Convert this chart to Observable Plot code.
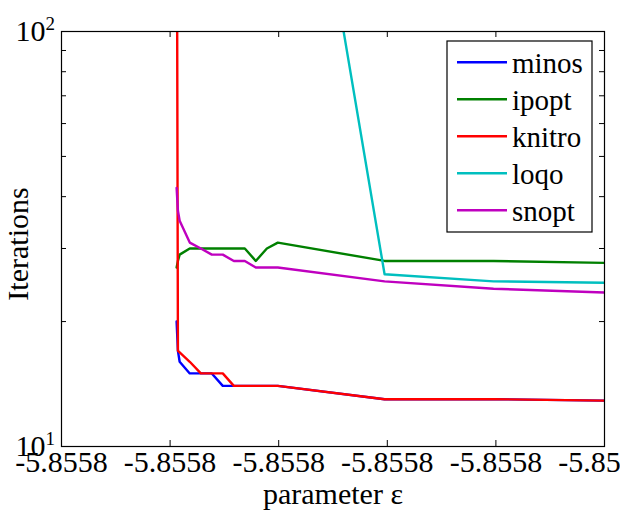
<!DOCTYPE html>
<html>
<head>
<meta charset="utf-8">
<script src="https://cdn.jsdelivr.net/npm/d3@7"></script>
<script src="https://cdn.jsdelivr.net/npm/@observablehq/plot@0.6"></script>
<style>
  html, body { margin: 0; padding: 0; background: #fff; overflow: hidden; }
  #chart { width: 620px; height: 511px; }
</style>
</head>
<body>
<div id="chart"></div>
<script>
// ---- data (x in tick-units: tick i ↔ label i) ----
const xVals = [1.060, 1.072, 1.088, 1.181, 1.283, 1.384, 1.485, 1.587, 1.688, 1.789, 1.891, 1.992, 2.975, 3.978, 5.0];
const minos  = [20, 17, 16, 15, 15, 15, 14, 14, 14, 14, 14, 14, 13, 13, 12.9];
const ipopt  = [27, 28, 29, 30, 30, 30, 30, 30, 30, 28, 30, 31, 28, 28, 27.7];
const knitro = [400, 17, 16.85, 16, 15, 15, 15, 14, 14, 14, 14, 14, 13, 13, 12.9];
const loqo   = [null, null, null, null, null, null, null, null, null, null, null, 870, 26, 25, 24.8];
const snopt  = [42, 37, 35, 31, 30, 29, 29, 28, 28, 27, 27, 27, 25, 24, 23.5];

const seriesNames  = ["minos", "ipopt", "knitro", "loqo", "snopt"];
const seriesColors = ["#0000ff", "#008000", "#ff0000", "#00bfbf", "#bf00bf"];
const seriesValues = [minos, ipopt, knitro, loqo, snopt];

const xTicks = [0, 1, 2, 3, 4, 5];
const xTickLabels = ["-5.8558", "-5.8558", "-5.8558", "-5.8558", "-5.8558", "-5.8558"];
const yMajorTicks = [10, 100];
const yTickBase = ["10", "10"];
const yTickExp = ["1", "2"];
const yMinorTicks = [20, 30, 40, 50, 60, 70, 80, 90];
const xLabel = "parameter ε";
const yLabel = "Iterations";

// ---- build table ----
const table = [];
seriesNames.forEach((name, s) => {
  seriesValues[s].forEach((v, i) => {
    if (v != null) table.push({series: name, x: xVals[i], y: v});
  });
});

const width = 620, height = 511;
const mL = 61, mR = 16, mT = 31, mB = 65;
const plotW = width - mL - mR, plotH = height - mT - mB;
const font = "'Liberation Serif', 'Times New Roman', serif";

const chart = Plot.plot({
  width, height,
  marginLeft: mL, marginRight: mR, marginTop: mT, marginBottom: mB,
  style: {fontFamily: font, background: "white", color: "black"},
  x: {domain: [0, 5], axis: null},
  y: {type: "log", domain: [10, 100], axis: null},
  color: {domain: seriesNames, range: seriesColors},
  marks: [
    Plot.line(table, {x: "x", y: "y", z: "series", stroke: "series", strokeWidth: 2.4, clip: true}),
    // inward ticks
    Plot.tickX(xTicks, {x: d => d, insetTop: plotH - 6, stroke: "black"}),
    Plot.tickX(xTicks, {x: d => d, insetBottom: plotH - 6, stroke: "black"}),
    Plot.tickY(yMinorTicks, {y: d => d, insetRight: plotW - 5, stroke: "black"}),
    Plot.tickY(yMinorTicks, {y: d => d, insetLeft: plotW - 5, stroke: "black"}),
    Plot.frame({stroke: "black", strokeWidth: 1.2}),
    // x tick labels
    Plot.text(xTicks, {x: d => d, text: (d, i) => xTickLabels[i], frameAnchor: "bottom", textAnchor: "middle", dy: 25, fontSize: 30, fill: "black"}),
    // y tick labels (10 with superscript exponent)
    Plot.text(yMajorTicks, {y: d => d, text: (d, i) => yTickBase[i], frameAnchor: "left", textAnchor: "end", dx: -16, fontSize: 30, fill: "black"}),
    Plot.text(yMajorTicks, {y: d => d, text: (d, i) => yTickExp[i], frameAnchor: "left", textAnchor: "start", dx: -16, dy: -8, fontSize: 19, fill: "black"}),
    // axis labels
    Plot.text([xLabel], {text: d => d, frameAnchor: "bottom", textAnchor: "middle", dy: 57, fontSize: 30, fill: "black"}),
    Plot.text([yLabel], {text: d => d, frameAnchor: "left", textAnchor: "middle", rotate: -90, dx: -43, dy: 5, fontSize: 30, fill: "black"})
  ]
});

document.getElementById("chart").appendChild(chart);

// ---- legend ----
const svg = d3.select(chart);
const lg = svg.append("g")
  .style("font-family", font).style("font-size", "29px").attr("text-anchor", "start");
const box = {x: 447, y: 41, w: 145, h: 191};
lg.append("rect").attr("x", box.x).attr("y", box.y).attr("width", box.w).attr("height", box.h)
  .attr("fill", "white").attr("stroke", "black").attr("stroke-width", 1.2);
seriesNames.forEach((name, i) => {
  const ly = 62.3 + i * 37;
  lg.append("line").attr("x1", 457).attr("x2", 507).attr("y1", ly).attr("y2", ly)
    .attr("stroke", seriesColors[i]).attr("stroke-width", 2.4);
  lg.append("text").attr("x", 512).attr("y", ly + 10.5).attr("fill", "black")
    .attr("text-anchor", "start").text(name);
});
</script>
</body>
</html>
